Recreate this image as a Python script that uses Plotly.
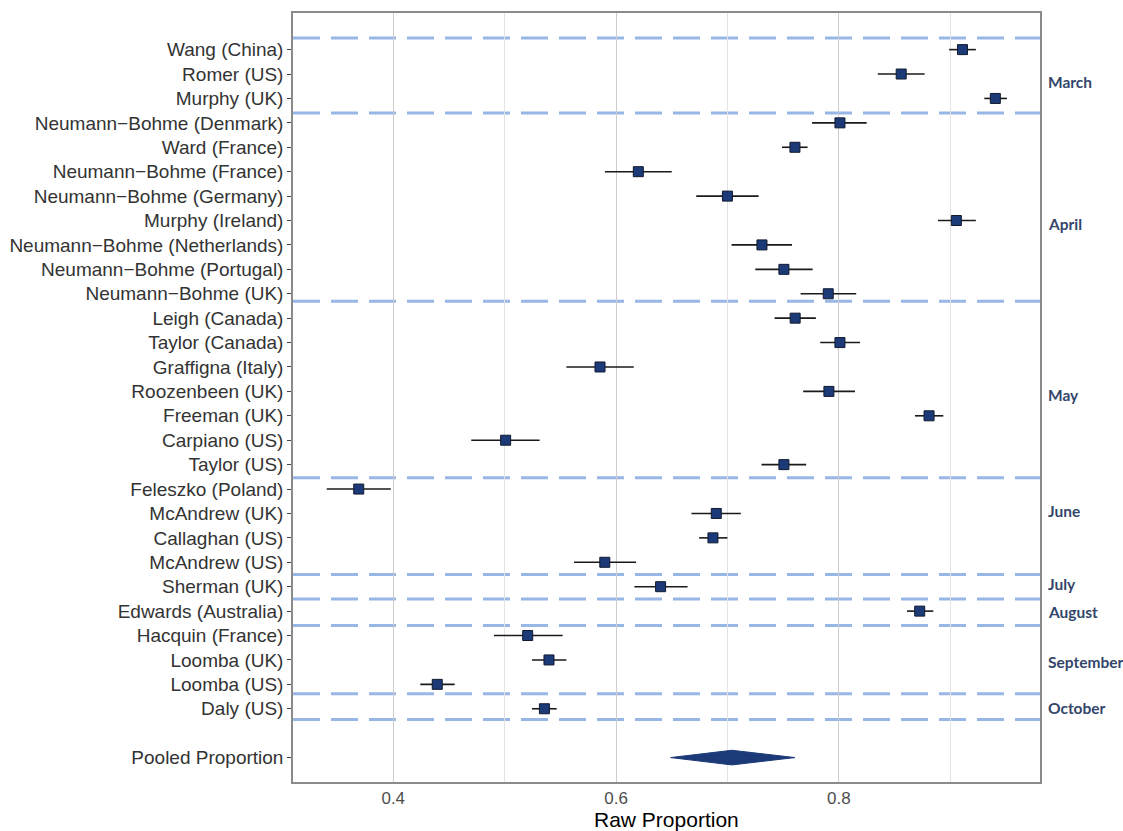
import plotly.graph_objects as go

studies = [
    "Wang (China)", "Romer (US)", "Murphy (UK)",
    "Neumann−Bohme (Denmark)", "Ward (France)", "Neumann−Bohme (France)",
    "Neumann−Bohme (Germany)", "Murphy (Ireland)", "Neumann−Bohme (Netherlands)",
    "Neumann−Bohme (Portugal)", "Neumann−Bohme (UK)",
    "Leigh (Canada)", "Taylor (Canada)", "Graffigna (Italy)", "Roozenbeen (UK)",
    "Freeman (UK)", "Carpiano (US)", "Taylor (US)",
    "Feleszko (Poland)", "McAndrew (UK)", "Callaghan (US)", "McAndrew (US)",
    "Sherman (UK)", "Edwards (Australia)",
    "Hacquin (France)", "Loomba (UK)", "Loomba (US)", "Daly (US)",
]
estimate = [0.911, 0.856, 0.9405, 0.801, 0.7606, 0.620, 0.700, 0.9055, 0.731,
            0.7507, 0.7905, 0.7608, 0.801, 0.5856, 0.7911, 0.881, 0.5009, 0.7507,
            0.369, 0.690, 0.687, 0.5899, 0.640, 0.8726, 0.5207, 0.5398, 0.4395, 0.5357]
ci_low = [0.899, 0.835, 0.9306, 0.776, 0.749, 0.590, 0.672, 0.889, 0.7037,
          0.725, 0.7657, 0.7423, 0.7833, 0.5554, 0.768, 0.8684, 0.470, 0.7306,
          0.3403, 0.6677, 0.6746, 0.5623, 0.6165, 0.8612, 0.4904, 0.5245, 0.4243, 0.5245]
ci_high = [0.923, 0.877, 0.951, 0.825, 0.772, 0.650, 0.728, 0.923, 0.758,
           0.7765, 0.8156, 0.7794, 0.819, 0.6159, 0.8145, 0.8938, 0.5314, 0.7707,
           0.3978, 0.712, 0.700, 0.618, 0.6642, 0.8848, 0.5521, 0.5554, 0.4551, 0.5467]

pooled_label = "Pooled Proportion"
pooled_est = 0.704
pooled_low = 0.649
pooled_high = 0.7606

months = ["March", "April", "May", "June", "July", "August", "September", "October"]
month_pos = [1.31, 7.13, 14.13, 18.9, 21.87, 23.04, 25.1, 26.96]
divider_pos = [-0.48, 2.6, 10.31, 17.54, 21.5, 22.5, 23.59, 26.38, 27.44]

x_ticks = [0.4, 0.6, 0.8]
x_title = "Raw Proportion"

rows = list(range(len(studies)))
pooled_row = len(studies) + 1

fig = go.Figure()

fig.add_trace(go.Scatter(
    x=estimate, y=rows, mode="markers",
    marker=dict(symbol="square", size=10, color="#1c3a78",
                line=dict(color="#111a2e", width=1)),
    error_x=dict(type="data", symmetric=False,
                 array=[h - e for h, e in zip(ci_high, estimate)],
                 arrayminus=[e - l for e, l in zip(estimate, ci_low)],
                 color="#1a1a1a", thickness=1.6, width=0),
    showlegend=False, hoverinfo="skip",
))

half_h = 0.3
fig.add_trace(go.Scatter(
    x=[pooled_low, pooled_est, pooled_high, pooled_est, pooled_low],
    y=[pooled_row, pooled_row - half_h, pooled_row, pooled_row + half_h, pooled_row],
    mode="lines", fill="toself", fillcolor="#1c3a78",
    line=dict(color="#1c3a78", width=1),
    showlegend=False, hoverinfo="skip",
))

for yp in divider_pos:
    fig.add_shape(type="line", xref="paper", x0=0, x1=1, yref="y", y0=yp, y1=yp,
                  line=dict(color="rgba(135,170,226,0.85)", width=3, dash="27px,11px"),
                  layer="between")

for m, yp in zip(months, month_pos):
    fig.add_annotation(text=m, xref="paper", x=1.008, xanchor="left",
                       yref="y", y=yp, yanchor="middle", showarrow=False,
                       font=dict(family="Lato", size=15.5, color="#33466a", weight=700))

fig.add_annotation(text=x_title, xref="paper", x=0.5, xanchor="center",
                   yref="paper", y=-0.031, yanchor="top", showarrow=False,
                   font=dict(size=21, color="black"))

fig.update_layout(
    width=1123, height=831,
    margin=dict(l=293, r=83, t=13, b=49, autoexpand=False),
    paper_bgcolor="white", plot_bgcolor="white",
    font=dict(family="Liberation Sans, Arial, sans-serif"),
    xaxis=dict(
        range=[0.310, 0.9806], tickvals=x_ticks, ticktext=[str(v) for v in x_ticks],
        showgrid=True, gridcolor="#cccccc", gridwidth=1,
        minor=dict(tickvals=[0.5, 0.7, 0.9], showgrid=True, gridcolor="#e3e3e3", gridwidth=1, ticks=""),
        showline=True, linecolor="#8a8a8a", linewidth=1.5, mirror=True,
        ticks="",
        tickfont=dict(size=17, color="#4d4d4d"),
        zeroline=False,
    ),
    yaxis=dict(
        range=[30, -1.5],
        tickvals=rows + [pooled_row], ticktext=studies + [pooled_label],
        showgrid=False, zeroline=False,
        showline=True, linecolor="#8a8a8a", linewidth=1.5, mirror=True,
        ticks="outside", ticklen=4, tickcolor="#444444",
        tickfont=dict(size=19, color="#333333"),
    ),
)

fig.write_html("out.html", config={"displayModeBar": False},
               post_script="document.body.style.margin='0px';document.body.style.overflow='hidden';")
